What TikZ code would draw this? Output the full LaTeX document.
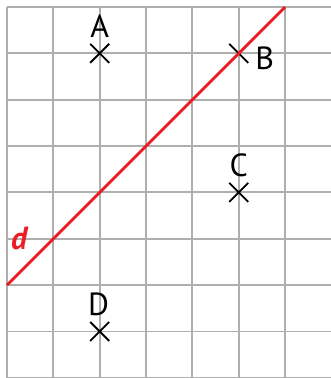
\documentclass[tikz,border=0pt]{standalone}
\usepackage{fontspec}
\setmainfont{PT Sans}
\definecolor{gridgray}{RGB}{175,175,175}
\definecolor{dred}{RGB}{236,28,36}
\begin{document}
\begin{tikzpicture}[x=1pt,y=-1pt,
  gridline/.style={draw=gridgray,line width=1.9pt},
  crossmark/.style={draw=black,line width=1.9pt},
  ptlabel/.style={font=\fontsize{32}{32}\selectfont,inner sep=0pt},
  dline/.style={draw=dred,line width=2.8pt}]
\useasboundingbox (0,0) rectangle (331,378);
% grid
\foreach \i in {0,...,7} \draw[gridline] (7+46.35*\i,7) -- (7+46.35*\i,380);
\foreach \j in {0,...,8} \draw[gridline] (7,7+46.35*\j) -- (333,7+46.35*\j);
% points
\coordinate (A) at (7+46.35*2,7+46.35*1);
\coordinate (B) at (7+46.35*5,7+46.35*1);
\coordinate (C) at (7+46.35*5,7+46.35*4);
\coordinate (D) at (7+46.35*2,7+46.35*7);
\foreach \p in {A,B,C,D}
  \draw[crossmark] ([shift={(-9.5,-9.5)}]\p) -- ([shift={(9.5,9.5)}]\p)
                   ([shift={(-9.5,9.5)}]\p) -- ([shift={(9.5,-9.5)}]\p);
% line d
\coordinate (d1) at (7,7+46.35*6);
\coordinate (d2) at (7+46.35*6,7);
\draw[dline] (d1) -- (d2);
% labels
\node[ptlabel] (lA) at ([shift={(0,-27)}]A) {A};
\node[ptlabel] (lB) at ([shift={(26,4.5)}]B) {B};
\node[ptlabel] (lC) at ([shift={(0,-27)}]C) {C};
\node[ptlabel] (lD) at ([shift={(-1,-27)}]D) {D};
\node[ptlabel,text=dred,font=\fontsize{32}{32}\selectfont\bfseries\itshape] (ld) at (19,239) {d};
\end{tikzpicture}
\end{document}
